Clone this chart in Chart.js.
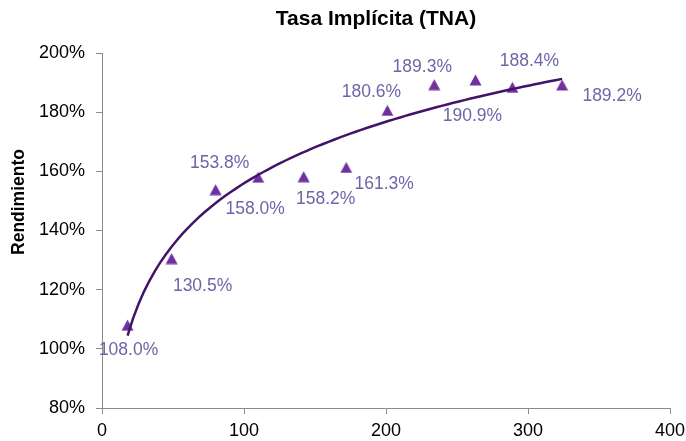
<!DOCTYPE html>
<html>
<head>
<meta charset="utf-8">
<script src="https://cdn.jsdelivr.net/npm/chart.js@4.4.1/dist/chart.umd.min.js"></script>
<style>
  body{ margin:0; background:#fff; }
  canvas{ display:block; }
</style>
</head>
<body>
<canvas id="grafTasa" width="686" height="441"></canvas>
<script>
/* ===== datos ===== */

const titulo = "Tasa Implícita (TNA)";
const tituloEje = "Rendimiento";

const plazos = [18, 49, 80, 110, 142, 172, 201, 234, 263, 289, 324];

const rendimientos = [108.0, 130.5, 153.8, 158.0, 158.2, 161.3, 180.6, 189.3, 190.9, 188.4, 189.2];

const ticksY = [80, 100, 120, 140, 160, 180, 200];

const ticksX = [0, 100, 200, 300, 400];

// donde va cada etiqueta respecto del punto (px)
const desplazamientos = [
    [1, 25], [31, 28], [4, -27], [-3, 32], [22, 23], [38, 17],
    [-16, -18], [-12, -17], [-3, 36], [17, -26], [50, 11]
];

/* ===== linea de tendencia logaritmica (minimos cuadrados) ===== */

function tendenciaLog(xs, ys){

    const lx = xs.map(v => Math.log(v));
    const n = xs.length;
    const mx = lx.reduce((a,b)=>a+b,0)/n;
    const my = ys.reduce((a,b)=>a+b,0)/n;

    let sxy = 0, sxx = 0;
    for(let i=0;i<n;i++){
        sxy += (lx[i]-mx)*(ys[i]-my);
        sxx += (lx[i]-mx)*(lx[i]-mx);
    }

    const a = sxy/sxx;
    const b = my - a*mx;

    const desde = Math.min(...xs);
    const hasta = Math.max(...xs);
    const puntos = [];
    for(let k=0;k<=80;k++){
        const x = desde + (hasta-desde)*k/80;
        puntos.push({x:x, y:a*Math.log(x)+b});
    }
    return puntos;
}

/* ===== marcador triangulo centrado (como excel) ===== */

function marcadorTriangulo(){
    const c = document.createElement("canvas");
    c.width = 13;
    c.height = 12;
    const g = c.getContext("2d");
    g.fillStyle = "#7030a0";
    g.beginPath();
    g.moveTo(6.5, 0.5);
    g.lineTo(12.5, 11.5);
    g.lineTo(0.5, 11.5);
    g.closePath();
    g.fill();
    return c;
}

/* ===== plugins ===== */

const etiquetas = {
    id:"etiquetas",
    afterDatasetsDraw(chart){
        const ctx = chart.ctx;
        const meta = chart.getDatasetMeta(1);
        ctx.save();
        ctx.font = "17.5px 'Liberation Sans', Arial, sans-serif";
        ctx.fillStyle = "#6b66a8";
        ctx.textAlign = "center";
        ctx.textBaseline = "middle";
        meta.data.forEach((pt,i)=>{
            const d = desplazamientos[i];
            ctx.fillText(rendimientos[i].toFixed(1) + "%", pt.x + d[0], pt.y + d[1]);
        });
        ctx.restore();
    }
};

const textos = {
    id:"textos",
    afterDraw(chart){
        const ctx = chart.ctx;
        ctx.save();
        ctx.fillStyle = "#000";
        ctx.textAlign = "center";
        ctx.textBaseline = "middle";

        ctx.font = "bold 21px 'Liberation Sans', Arial, sans-serif";
        ctx.fillText(titulo, 376, 19);

        ctx.translate(19, 202);
        ctx.rotate(-Math.PI/2);
        ctx.font = "bold 17.5px 'Liberation Sans', Arial, sans-serif";
        ctx.fillText(tituloEje, 0, 0);
        ctx.restore();
    }
};

/* ===== grafica ===== */

const chartTasa = new Chart(

    document.getElementById("grafTasa"),

    {
        type:"scatter",

        data:{
            datasets:[
                {
                    label:"Tendencia",
                    data:tendenciaLog(plazos, rendimientos),
                    showLine:true,
                    borderColor:"#43136b",
                    borderWidth:2.5,
                    pointRadius:0,
                    order:0
                },
                {
                    label:"Tasa",
                    data:plazos.map((x,i)=>({x:x, y:rendimientos[i]})),
                    pointStyle:marcadorTriangulo(),
                    pointRadius:7,
                    pointHoverRadius:7,
                    backgroundColor:"#7030a0",
                    borderColor:"#7030a0",
                    borderWidth:0,
                    order:1
                }
            ]
        },

        options:{
            responsive:false,
            animation:false,
            devicePixelRatio:1,
            layout:{ padding:{ top:53, right:16 } },
            plugins:{
                legend:{ display:false },
                tooltip:{ enabled:false },
                title:{ display:false }
            },
            scales:{
                x:{
                    type:"linear",
                    min:ticksX[0],
                    max:ticksX[ticksX.length-1],
                    afterBuildTicks(axis){ axis.ticks = ticksX.map(v=>({value:v})); },
                    afterFit(axis){
                        axis.height = 33;
                        axis.paddingLeft = 0;
                        axis.paddingRight = 0;
                    },
                    ticks:{
                        color:"#000",
                        padding:6,
                        maxRotation:0,
                        font:{ family:"'Liberation Sans', Arial, sans-serif", size:18 }
                    },
                    grid:{ drawOnChartArea:false, drawTicks:true, tickLength:6, color:"#8c8c8c" },
                    border:{ color:"#8c8c8c" }
                },
                y:{
                    min:ticksY[0],
                    max:ticksY[ticksY.length-1],
                    afterBuildTicks(axis){ axis.ticks = ticksY.map(v=>({value:v})); },
                    afterFit(axis){
                        axis.width = 102;
                        axis.paddingTop = 0;
                        axis.paddingBottom = 0;
                    },
                    ticks:{
                        color:"#000",
                        padding:11,
                        callback:v => v + "%",
                        font:{ family:"'Liberation Sans', Arial, sans-serif", size:18 }
                    },
                    grid:{ drawOnChartArea:false, drawTicks:true, tickLength:6, color:"#8c8c8c" },
                    border:{ color:"#8c8c8c" }
                }
            }
        },

        plugins:[etiquetas, textos]
    }
);
</script>
</body>
</html>
